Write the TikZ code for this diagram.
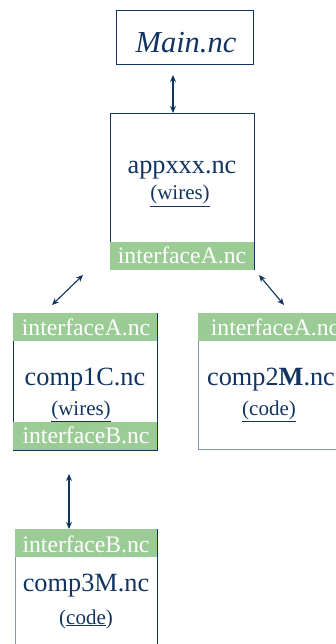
\documentclass[tikz,border=0pt]{standalone}
\usepackage{fontspec}
\setmainfont{Liberation Serif}
\usetikzlibrary{arrows.meta}
\definecolor{navy}{RGB}{18,52,96}
\definecolor{lightnavy}{RGB}{125,148,180}
\definecolor{ifgreen}{RGB}{155,204,150}
\tikzset{
  box/.style={draw=navy, line width=1pt, fill=white, inner sep=0pt, anchor=north west},
  lbox/.style={draw=lightnavy, line width=1pt, fill=white, inner sep=0pt, anchor=north west},
  band/.style={fill=ifgreen, inner sep=0pt, anchor=north west, minimum height=28pt},
  bandtxt/.style={text=white, font=\fontsize{23.7}{27}\selectfont, anchor=base, inner sep=0pt},
  maintxt/.style={text=navy, font=\fontsize{26.3}{30}\selectfont, anchor=base, inner sep=0pt},
  subtxt/.style={text=navy, font=\fontsize{21}{24}\selectfont, anchor=base, inner sep=0pt},
  arr/.style={draw=navy, line width=1.1pt, {Stealth[length=7pt,width=6pt]}-{Stealth[length=7pt,width=6pt]}}
}
\newcommand{\ul}[1]{\underline{#1}}
\begin{document}
\begin{tikzpicture}[x=1pt, y=-1pt]
\clip (0,0) rectangle (336,644);
\fill[white] (0,0) rectangle (336,644);
% Main
\node[box, minimum width=137pt, minimum height=54pt] (main) at (116,10) {};
\node[text=navy, font=\fontsize{30.5}{34}\selectfont\itshape, anchor=base, inner sep=0pt] (maint) at (186,53) {Main.nc};
% appxxx
\node[box, minimum width=144pt, minimum height=156pt] (app) at (110,113) {};
\node[band, minimum width=144pt] (appif) at (110,242) {};
\node[maintxt] (appt) at (182,174) {appxxx.nc};
\node[subtxt] (appw) at (180,200) {\ul{(wires)}};
\node[bandtxt] (appift) at (182,263) {interfaceA.nc};
% comp1C
\node[box, minimum width=144pt, minimum height=137pt] (c1) at (13,313) {};
\node[band, minimum width=144pt] (c1a) at (13,313) {};
\node[band, minimum width=144pt] (c1b) at (13,422) {};
\node[bandtxt] (c1at) at (86,335) {interfaceA.nc};
\node[maintxt] (c1t) at (85,385) {comp1C.nc};
\node[subtxt] (c1w) at (81,415) {\ul{(wires)}};
\node[bandtxt] (c1bt) at (86,443) {interfaceB.nc};
% comp2M
\node[lbox, minimum width=146pt, minimum height=136pt] (c2) at (198,313) {};
\node[band, minimum width=146pt] (c2a) at (198,313) {};
\node[bandtxt] (c2at) at (275,335) {interfaceA.nc};
\node[maintxt] (c2t) at (271,385) {comp2\textbf{M}.nc};
\node[subtxt] (c2w) at (269,415) {\ul{(code)}};
% comp3M
\node[box, minimum width=142pt, minimum height=140pt] (c3) at (15,529) {};
\draw[lightnavy, line width=1pt] (c3.north west) -- (c3.south west);
\node[band, minimum width=142pt] (c3a) at (15,529) {};
\node[bandtxt] (c3at) at (86,552) {interfaceB.nc};
\node[maintxt] (c3t) at (86,591) {comp3M.nc};
\node[subtxt] (c3w) at (86,624) {(\ul{code})};
% arrows
\coordinate (m1) at (173,75);
\coordinate (m2) at (173,113);
\coordinate (l1) at (83,275);
\coordinate (l2) at (52,305);
\coordinate (r1) at (259,275);
\coordinate (r2) at (284,305);
\coordinate (b1) at (69,474);
\coordinate (b2) at (69,529);
\draw[arr] (m1) -- (m2);
\draw[arr] (l1) -- (l2);
\draw[arr] (r1) -- (r2);
\draw[arr] (b1) -- (b2);
\end{tikzpicture}
\end{document}
